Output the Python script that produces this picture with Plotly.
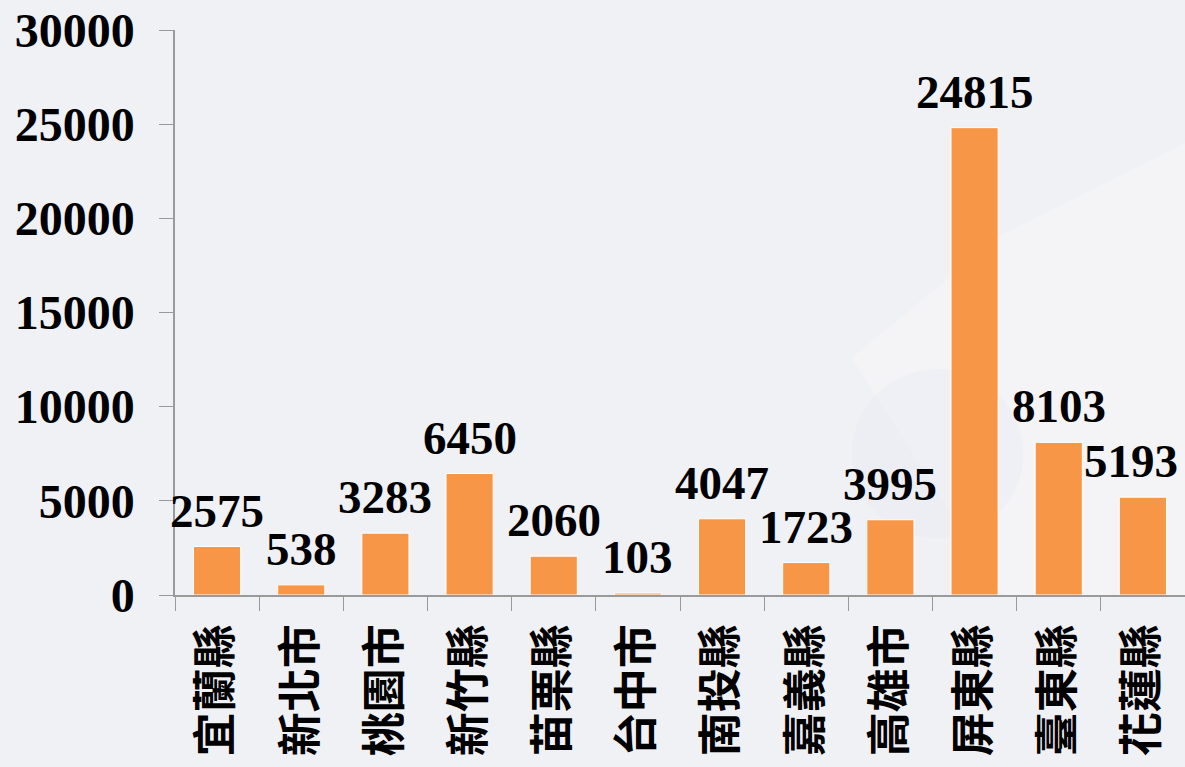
import plotly.graph_objects as go

# Counts by county / city
counties = ["宜蘭縣", "新北市", "桃園市", "新竹縣", "苗栗縣", "台中市",
            "南投縣", "嘉義縣", "高雄市", "屏東縣", "臺東縣", "花蓮縣"]
counts = [2575, 538, 3283, 6450, 2060, 103, 4047, 1723, 3995, 24815, 8103, 5193]

y_ticks = [0, 5000, 10000, 15000, 20000, 25000, 30000]

BAR_COLOR = "#F79646"
BG = "#F0F1F5"
SERIF = "Liberation Serif, Times New Roman, serif"
CJK = "Noto Sans CJK TC, Noto Sans CJK SC, sans-serif"

fig = go.Figure(
    go.Bar(
        x=counties,
        y=counts,
        marker=dict(color=BAR_COLOR, line=dict(color="white", width=1)),
        cliponaxis=False,
        hoverinfo="x+y",
    )
)

# value labels above each bar; the last one is nudged left to stay on the page
for i, (name, v) in enumerate(zip(counties, counts)):
    fig.add_annotation(
        x=name, y=v, xref="x", yref="y",
        text=str(v), showarrow=False,
        yanchor="bottom", yshift=8,
        xshift=-12 if i == len(counts) - 1 else 0,
        font=dict(family=SERIF, size=47, color="black", weight="bold"),
    )

# faint light sweep in the background on the right side
fig.add_shape(
    type="path",
    xref="paper", yref="paper",
    path="M 0.67,0.42 L 0.82,0.64 L 1.0,0.80 L 1.0,0.0 L 0.82,0.0 Z",
    fillcolor="white", opacity=0.25, line=dict(width=0), layer="below",
)
fig.add_shape(
    type="circle",
    xref="paper", yref="paper",
    x0=0.67, x1=0.84, y0=0.10, y1=0.40,
    fillcolor="#E6E9F2", opacity=0.3, line=dict(width=0), layer="below",
)

fig.update_layout(
    width=1185,
    height=767,
    margin=dict(l=175, r=0, t=30, b=172, autoexpand=False),
    paper_bgcolor=BG,
    plot_bgcolor=BG,
    bargap=0.44,
    showlegend=False,
    xaxis=dict(
        type="category",
        range=[-0.5, len(counties) - 0.5],
        automargin=False,
        tickangle=-90,
        tickfont=dict(family=CJK, size=44, color="black", weight="bold"),
        ticks="outside",
        tickson="boundaries",
        ticklen=14,
        tickcolor="#9A9A9A",
        showline=True,
        linecolor="#9A9A9A",
        linewidth=1.5,
        showgrid=False,
        ticklabelstandoff=10,
    ),
    yaxis=dict(
        range=[0, 30000],
        automargin=False,
        tickvals=y_ticks,
        ticktext=[str(v) for v in y_ticks],
        tickfont=dict(family=SERIF, size=48, color="black", weight="bold"),
        ticks="outside",
        ticklen=14,
        tickcolor="#9A9A9A",
        showline=True,
        linecolor="#9A9A9A",
        linewidth=1.5,
        showgrid=False,
        zeroline=False,
        ticklabelstandoff=15,
    ),
)

fig.write_html("out.html")
